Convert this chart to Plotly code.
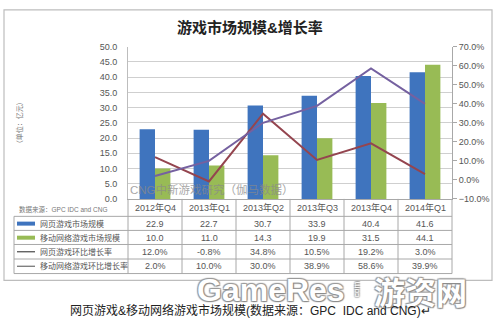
import plotly.graph_objects as go

# Quarterly market data (revenue in 100M CNY, growth in %)
quarters = ["2012年Q4", "2013年Q1", "2013年Q2", "2013年Q3", "2013年Q4", "2014年Q1"]
web_size = [22.9, 22.7, 30.7, 33.9, 40.4, 41.6]
mobile_size = [10.0, 11.0, 14.3, 19.9, 31.5, 44.1]
web_growth = [12.0, -0.8, 34.8, 10.5, 19.2, 3.0]
mobile_growth = [2.0, 10.0, 30.0, 38.9, 58.6, 39.9]

series_names = ["网页游戏市场规模", "移动网络游戏市场规模", "网页游戏环比增长率", "移动网络游戏环比增长率"]

BLUE = "#3f74be"
GREEN = "#98bb55"
RED = "#94454f"
PURPLE = "#7561a0"
GRID = "#cfcfcf"
TXT = "#555555"
CJK = "Liberation Sans, Noto Sans CJK SC, sans-serif"

W, H = 500, 328


def px(x):
    return x / W


def py(y):
    return 1 - y / H


def label(x, y, text, size, color=TXT, family=CJK, xanchor="center", **kw):
    """Text placed in pixel coordinates of the page, centred vertically."""
    return dict(x=px(x), y=py(y), xref="paper", yref="paper", text=text, showarrow=False,
                xanchor=xanchor, yanchor="middle", font=dict(size=size, color=color, family=family,
                                                             **kw.pop("font_extra", {})), **kw)


PLOT_L, PLOT_R, PLOT_T, PLOT_B = 128, 452, 43, 200

fig = go.Figure()
fig.add_bar(x=quarters, y=web_size, name=series_names[0], marker=dict(color=BLUE, line=dict(width=0)))
fig.add_bar(x=quarters, y=mobile_size, name=series_names[1], marker=dict(color=GREEN, line=dict(width=0)))
fig.add_scatter(x=quarters, y=web_growth, name=series_names[2], yaxis="y2", mode="lines",
                line=dict(color=RED, width=2))
fig.add_scatter(x=quarters, y=mobile_growth, name=series_names[3], yaxis="y2", mode="lines",
                line=dict(color=PURPLE, width=2))

shapes = []
annotations = []

# outer frame
shapes.append(dict(type="rect", xref="paper", yref="paper", x0=px(4), x1=px(492), y0=py(284), y1=py(5),
                   line=dict(color="#bdbdbd", width=1.2), layer="below"))

# data table grid
ROW_LINES = [218, 232.5, 247, 262, 277]
COL_LINES = [PLOT_L + 54 * i for i in range(7)]
for yl in ROW_LINES:
    shapes.append(dict(type="line", xref="paper", yref="paper", x0=px(14), x1=px(PLOT_R), y0=py(yl), y1=py(yl),
                       line=dict(color="#a8a8a8", width=1)))
shapes.append(dict(type="line", xref="paper", yref="paper", x0=px(14), x1=px(14), y0=py(218), y1=py(277),
                   line=dict(color="#a8a8a8", width=1)))
for xl in COL_LINES:
    shapes.append(dict(type="line", xref="paper", yref="paper", x0=px(xl), x1=px(xl), y0=py(PLOT_B), y1=py(277),
                       line=dict(color="#a8a8a8", width=1)))

col_centers = [PLOT_L + 54 * (i + 0.5) for i in range(6)]
row_centers = [225.5, 240, 254.5, 269.5]

for c, q in zip(col_centers, quarters):
    annotations.append(label(c, 209, q, 9))

rows = [
    [f"{v:.1f}" for v in web_size],
    [f"{v:.1f}" for v in mobile_size],
    [f"{v:.1f}%" for v in web_growth],
    [f"{v:.1f}%" for v in mobile_growth],
]
for r, vals in enumerate(rows):
    for c, v in zip(col_centers, vals):
        annotations.append(label(c, row_centers[r], v, 9))

# legend keys inside the table
key_styles = [(BLUE, 4), (GREEN, 4), ("#555555", 1.3), ("#777777", 1.3)]
for (col, wdt), yc, name in zip(key_styles, row_centers, series_names):
    shapes.append(dict(type="line", xref="paper", yref="paper", x0=px(17), x1=px(35), y0=py(yc), y1=py(yc),
                       line=dict(color=col, width=wdt)))
    annotations.append(label(38, yc, name, 8, xanchor="left"))

annotations.append(label(17, 211, "数据来源：GPC IDC and CNG", 6.5, color="#777777", xanchor="left"))

# title and axis title
annotations.append(label(250, 23, "<b>游戏市场规模&增长率</b>", 15, color="#222222"))
annotations.append(label(19, 122, "（单位：亿元）", 7, color="#777777", textangle=-90))

# source watermark inside the plot
annotations.append(label(128, 190, "CNG中新游戏研究（伽马数据）", 11.5, color="#8a8a8a", xanchor="left",
                         opacity=0.75))

# site watermark
wm_shadow = "1px 1px 1px #8a8a8a, -1px -1px 1px #9a9a9a, 1px -1px 1px #9a9a9a, -1px 1px 1px #9a9a9a"
annotations.append(label(271, 294, "<b>GameRes</b>", 32, color="#ffffff", family="Liberation Sans",
                         font_extra=dict(shadow=wm_shadow)))
annotations.append(label(356, 294, "com", 8, color="#ffffff", family="Liberation Sans", textangle=-90,
                         font_extra=dict(shadow=wm_shadow)))
annotations.append(label(420, 294, "<b>游资网</b>", 31, color="#ffffff", family="Noto Sans CJK SC",
                         font_extra=dict(shadow=wm_shadow)))

# caption
annotations.append(label(250, 315, "网页游戏&移动网络游戏市场规模(数据来源：GPC  IDC and CNG)↵", 12,
                         color="#222222"))

fig.update_layout(
    width=W, height=H,
    margin=dict(l=0, r=0, t=0, b=0),
    paper_bgcolor="white", plot_bgcolor="white",
    showlegend=False,
    barmode="group", bargap=0.43, bargroupgap=0,
    xaxis=dict(domain=[px(PLOT_L), px(PLOT_R)], range=[-0.5, 5.5], showticklabels=False, showgrid=False,
               zeroline=False, showline=True, linecolor="#a8a8a8", linewidth=1, ticks=""),
    yaxis=dict(domain=[py(PLOT_B), py(PLOT_T)], range=[0, 50], dtick=5, tickformat=".1f",
               showgrid=True, gridcolor=GRID, gridwidth=1, zeroline=False,
               showline=True, linecolor="#bdbdbd", ticks="", ticklabelstandoff=8,
               tickfont=dict(size=9, color=TXT, family="Liberation Sans")),
    yaxis2=dict(overlaying="y", side="right", range=[-10, 70], dtick=10, tickformat=".1f", ticksuffix="%",
                showgrid=False, zeroline=False, showline=True, linecolor="#a8a8a8",
                ticks="outside", ticklen=4, tickcolor="#a8a8a8",
                tickfont=dict(size=9, color=TXT, family="Liberation Sans")),
    shapes=shapes,
    annotations=annotations,
)

fig.write_html("out.html")
